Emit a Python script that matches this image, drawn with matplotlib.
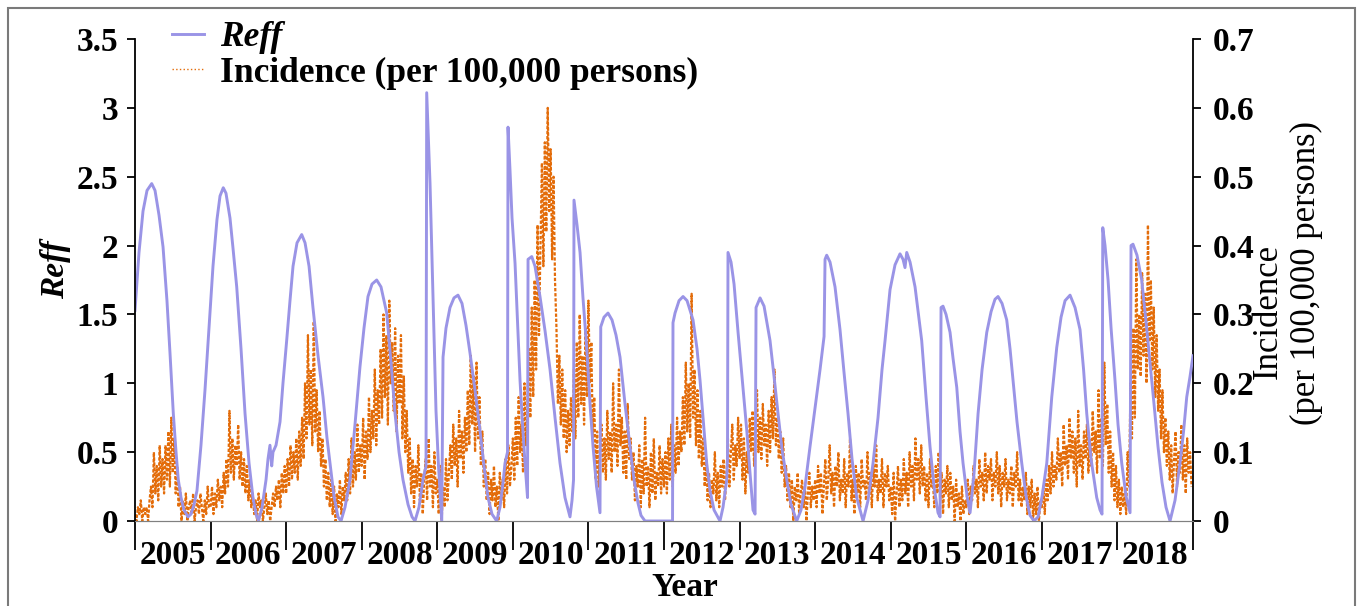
import numpy as np
import matplotlib
matplotlib.use("Agg")
import matplotlib.pyplot as plt
from matplotlib.lines import Line2D
from matplotlib.patches import Rectangle

# Reff curve, (decimal year, value)
reff_knots = [
    (2005.000, 1.53), (2005.053, 1.95), (2005.106, 2.25), (2005.159, 2.40), (2005.221, 2.45), (2005.265, 2.40),
    (2005.318, 2.22), (2005.371, 1.99), (2005.423, 1.60), (2005.463, 1.22), (2005.507, 0.78), (2005.543, 0.50),
    (2005.573, 0.30), (2005.609, 0.17), (2005.648, 0.08), (2005.701, 0.03), (2005.741, 0.05), (2005.781, 0.12),
    (2005.820, 0.22), (2005.873, 0.55), (2005.926, 0.95), (2005.979, 1.40),
    (2006.032, 1.85), (2006.085, 2.19), (2006.125, 2.36), (2006.168, 2.42), (2006.204, 2.38), (2006.257, 2.20),
    (2006.297, 1.98), (2006.346, 1.70), (2006.403, 1.25), (2006.456, 0.78), (2006.509, 0.42), (2006.561, 0.17),
    (2006.601, 0.05), (2006.634, 0.00), (2006.681, 0.10), (2006.734, 0.30), (2006.760, 0.45), (2006.786, 0.55),
    (2006.809, 0.40), (2006.826, 0.50), (2006.866, 0.55), (2006.919, 0.72), (2006.958, 1.00),
    (2007.007, 1.31), (2007.051, 1.60), (2007.091, 1.85), (2007.144, 2.02), (2007.206, 2.08), (2007.250, 2.02),
    (2007.303, 1.85), (2007.355, 1.55), (2007.422, 1.20), (2007.488, 0.90), (2007.541, 0.60), (2007.580, 0.42),
    (2007.633, 0.18), (2007.686, 0.03), (2007.726, 0.00), (2007.779, 0.10), (2007.845, 0.30), (2007.911, 0.70),
    (2007.977, 1.12),
    (2008.030, 1.40), (2008.083, 1.63), (2008.136, 1.72), (2008.198, 1.75), (2008.255, 1.70), (2008.331, 1.51),
    (2008.388, 1.15), (2008.441, 0.78), (2008.494, 0.50), (2008.546, 0.30), (2008.613, 0.12), (2008.666, 0.03),
    (2008.705, 0.00), (2008.758, 0.10), (2008.811, 0.30), (2008.851, 0.40), (2008.860, 3.11), (2008.877, 2.85),
    (2008.904, 2.45), (2008.930, 1.90), (2008.957, 1.30), (2008.983, 0.80),
    (2009.016, 0.40), (2009.059, 0.00), (2009.076, 1.19), (2009.115, 1.40), (2009.168, 1.55), (2009.221, 1.62),
    (2009.274, 1.64), (2009.327, 1.58), (2009.380, 1.42), (2009.433, 1.22), (2009.499, 0.95), (2009.565, 0.66),
    (2009.618, 0.40), (2009.671, 0.17), (2009.724, 0.05), (2009.786, 0.00), (2009.830, 0.10), (2009.870, 0.28),
    (2009.896, 0.42), (2009.929, 0.50), (2009.936, 2.86), (2009.962, 2.55), (2009.989, 2.20),
    (2010.029, 1.87), (2010.062, 1.45), (2010.095, 1.02), (2010.128, 0.70), (2010.161, 0.42), (2010.194, 0.17),
    (2010.201, 1.90), (2010.250, 1.92), (2010.293, 1.85), (2010.359, 1.63), (2010.426, 1.38), (2010.492, 1.10),
    (2010.558, 0.75), (2010.624, 0.42), (2010.690, 0.17), (2010.756, 0.03), (2010.783, 0.15), (2010.803, 0.30),
    (2010.809, 2.33), (2010.849, 2.15), (2010.889, 1.95), (2010.928, 1.62), (2010.977, 1.26),
    (2011.021, 0.85), (2011.061, 0.54), (2011.107, 0.25), (2011.153, 0.06), (2011.163, 1.41), (2011.206, 1.48),
    (2011.259, 1.51), (2011.312, 1.46), (2011.365, 1.35), (2011.418, 1.19), (2011.484, 0.85), (2011.550, 0.54),
    (2011.603, 0.30), (2011.656, 0.13), (2011.696, 0.04), (2011.749, 0.00), (2011.815, 0.00), (2011.947, 0.00),
    (2012.053, 0.00), (2012.113, 0.00), (2012.119, 1.44), (2012.146, 1.51), (2012.199, 1.60), (2012.252, 1.63),
    (2012.305, 1.60), (2012.384, 1.46), (2012.437, 1.25), (2012.477, 1.02), (2012.516, 0.75), (2012.565, 0.42),
    (2012.609, 0.22), (2012.662, 0.08), (2012.741, 0.00), (2012.781, 0.10), (2012.830, 0.30), (2012.840, 0.45),
    (2012.847, 1.95), (2012.887, 1.88), (2012.927, 1.72), (2012.980, 1.37),
    (2013.032, 1.05), (2013.095, 0.66), (2013.138, 0.35), (2013.178, 0.08), (2013.205, 0.05), (2013.218, 1.55),
    (2013.271, 1.62), (2013.324, 1.56), (2013.403, 1.31), (2013.456, 1.05), (2013.509, 0.78), (2013.562, 0.52),
    (2013.624, 0.30), (2013.681, 0.12), (2013.756, 0.00), (2013.813, 0.08), (2013.866, 0.25), (2013.932, 0.54),
    (2013.998, 0.82),
    (2014.065, 1.10), (2014.118, 1.34), (2014.131, 1.90), (2014.153, 1.93), (2014.197, 1.88), (2014.263, 1.70),
    (2014.329, 1.39), (2014.382, 1.08), (2014.435, 0.78), (2014.488, 0.45), (2014.550, 0.17), (2014.634, 0.00),
    (2014.700, 0.15), (2014.766, 0.42), (2014.832, 0.75), (2014.885, 1.10), (2014.925, 1.31), (2014.991, 1.68),
    (2015.057, 1.86), (2015.123, 1.94), (2015.163, 1.90), (2015.189, 1.84), (2015.212, 1.95), (2015.256, 1.88),
    (2015.322, 1.70), (2015.410, 1.31), (2015.467, 0.90), (2015.520, 0.54), (2015.573, 0.25), (2015.626, 0.06),
    (2015.653, 0.03), (2015.666, 1.55), (2015.692, 1.56), (2015.732, 1.50), (2015.785, 1.37), (2015.825, 1.18),
    (2015.874, 0.97), (2015.917, 0.65), (2015.957, 0.42),
    (2016.010, 0.18), (2016.050, 0.06), (2016.103, 0.35), (2016.156, 0.78), (2016.209, 1.10), (2016.271, 1.37),
    (2016.328, 1.52), (2016.380, 1.61), (2016.420, 1.63), (2016.473, 1.58), (2016.535, 1.46), (2016.579, 1.25),
    (2016.619, 1.02), (2016.671, 0.72), (2016.734, 0.42), (2016.791, 0.18), (2016.844, 0.04), (2016.897, 0.00),
    (2016.950, 0.03),
    (2017.003, 0.18), (2017.065, 0.42), (2017.131, 0.90), (2017.197, 1.26), (2017.254, 1.48), (2017.307, 1.60),
    (2017.373, 1.64), (2017.439, 1.55), (2017.505, 1.39), (2017.552, 1.10), (2017.594, 0.78), (2017.651, 0.45),
    (2017.726, 0.17), (2017.770, 0.08), (2017.796, 0.05), (2017.806, 2.13), (2017.836, 2.00), (2017.876, 1.75),
    (2017.916, 1.40), (2017.968, 1.02),
    (2018.008, 0.70), (2018.057, 0.42), (2018.114, 0.18), (2018.167, 0.06), (2018.180, 2.00), (2018.206, 2.01),
    (2018.259, 1.93), (2018.321, 1.75), (2018.378, 1.45), (2018.431, 1.15), (2018.484, 0.85), (2018.537, 0.54),
    (2018.590, 0.28), (2018.643, 0.10), (2018.696, 0.00), (2018.762, 0.15), (2018.828, 0.42), (2018.875, 0.65),
    (2018.917, 0.90), (2018.961, 1.05), (2019.000, 1.20),
]

# weekly incidence (per 100,000 persons), 52 weeks per year
inc_2005 = [0.01, 0.0, 0.02, 0.01, 0.03, 0.0, 0.02, 0.01, 0.02, 0.0, 0.03,
            0.05, 0.02, 0.10, 0.04, 0.08, 0.03, 0.11, 0.05, 0.09, 0.04, 0.11, 0.06, 0.13, 0.05, 0.15, 0.07, 0.12,
            0.04, 0.08, 0.02, 0.05, 0.0, 0.03, 0.01, 0.04, 0.0, 0.02, 0.03, 0.01, 0.04, 0.0, 0.02, 0.03, 0.01, 0.04,
            0.02, 0.0, 0.03, 0.01, 0.05, 0.02]
inc_2006 = [0.02, 0.05, 0.01, 0.04, 0.02, 0.06, 0.03, 0.05, 0.02, 0.07, 0.04,
            0.09, 0.05, 0.16, 0.07, 0.12, 0.06, 0.11, 0.08, 0.14, 0.06, 0.10, 0.05, 0.09, 0.04, 0.08,
            0.03, 0.06, 0.02, 0.04, 0.01, 0.03, 0.0, 0.04, 0.02, 0.03, 0.0, 0.02, 0.04, 0.01, 0.03, 0.0, 0.02, 0.04,
            0.02, 0.05, 0.03, 0.06, 0.02, 0.07, 0.04, 0.08]
inc_2007 = [0.04, 0.09, 0.05, 0.11, 0.06, 0.10, 0.07, 0.12, 0.06, 0.13, 0.08,
            0.15, 0.09, 0.20, 0.12, 0.27, 0.14, 0.22, 0.11, 0.29, 0.13, 0.19, 0.10, 0.16, 0.08,
            0.12, 0.05, 0.09, 0.03, 0.07, 0.02, 0.06, 0.01, 0.05, 0.0, 0.04, 0.02, 0.06, 0.01, 0.05, 0.03,
            0.07, 0.03, 0.09, 0.04, 0.12, 0.05, 0.10, 0.06, 0.14, 0.07, 0.11]
inc_2008 = [0.08, 0.15, 0.06, 0.13, 0.09, 0.18, 0.10, 0.16, 0.12, 0.22, 0.11, 0.19, 0.14,
            0.25, 0.15, 0.30, 0.18, 0.27, 0.14, 0.32, 0.20, 0.26, 0.16, 0.28, 0.13, 0.24, 0.17, 0.27, 0.12, 0.21,
            0.10, 0.16, 0.07, 0.12, 0.04, 0.09, 0.02, 0.08, 0.05, 0.11, 0.03, 0.07, 0.01, 0.06, 0.09, 0.03, 0.12,
            0.05, 0.08, 0.02, 0.10, 0.04]
inc_2009 = [0.06, 0.01, 0.08, 0.0, 0.05, 0.02, 0.09, 0.03, 0.07,
            0.11, 0.06, 0.14, 0.08, 0.12, 0.05, 0.16, 0.09, 0.13, 0.07, 0.15, 0.10,
            0.19, 0.11, 0.24, 0.14, 0.21, 0.10, 0.23, 0.12, 0.18, 0.08,
            0.13, 0.05, 0.09, 0.03, 0.07, 0.01, 0.06, 0.03, 0.08, 0.02, 0.05, 0.0, 0.07, 0.03, 0.06, 0.02, 0.09,
            0.04, 0.11, 0.05, 0.08]
inc_2010 = [0.12, 0.06, 0.15, 0.08, 0.18, 0.10, 0.14, 0.07, 0.20, 0.11, 0.17,
            0.25, 0.15, 0.31, 0.18, 0.35, 0.22, 0.43, 0.27,
            0.40, 0.52, 0.37, 0.55, 0.42, 0.60, 0.45, 0.54, 0.38, 0.50, 0.35,
            0.28, 0.17, 0.24, 0.14, 0.22, 0.12, 0.19, 0.10, 0.16,
            0.11, 0.18, 0.13, 0.22, 0.12, 0.26, 0.15, 0.30, 0.17, 0.24, 0.14, 0.28, 0.18]
inc_2011 = [0.32, 0.20, 0.26, 0.12, 0.18, 0.06, 0.13, 0.05, 0.10,
            0.14, 0.07, 0.12, 0.06, 0.16, 0.09, 0.13, 0.07, 0.20, 0.10, 0.14, 0.08, 0.22, 0.11, 0.15, 0.07, 0.13,
            0.06, 0.17, 0.09, 0.12, 0.06,
            0.10, 0.03, 0.08, 0.05, 0.11, 0.02, 0.09, 0.04, 0.15, 0.05, 0.08, 0.02, 0.10, 0.04, 0.12, 0.03, 0.07,
            0.05, 0.11, 0.04, 0.09]
inc_2012 = [0.05, 0.10, 0.04, 0.12, 0.06, 0.14, 0.05, 0.11, 0.07, 0.15, 0.08, 0.13, 0.10,
            0.18, 0.11, 0.23, 0.13, 0.20, 0.12, 0.33, 0.15, 0.22, 0.11, 0.19, 0.09, 0.16,
            0.08, 0.12, 0.05, 0.09, 0.03, 0.07, 0.02, 0.06, 0.04, 0.10, 0.03, 0.07, 0.02, 0.08, 0.05, 0.09, 0.03,
            0.07, 0.12, 0.05, 0.10, 0.14, 0.06, 0.11, 0.08, 0.15]
inc_2013 = [0.09, 0.14, 0.06, 0.12, 0.04, 0.10, 0.07, 0.15,
            0.10, 0.16, 0.08, 0.13, 0.19, 0.10, 0.15, 0.09, 0.17, 0.11, 0.14, 0.08, 0.16, 0.10, 0.18, 0.12, 0.22,
            0.11, 0.15, 0.09, 0.13, 0.07, 0.12,
            0.05, 0.08, 0.03, 0.07, 0.02, 0.06, 0.0, 0.05, 0.03, 0.07, 0.01, 0.04, 0.06, 0.02, 0.05, 0.0, 0.04,
            0.07, 0.02, 0.05, 0.03]
inc_2014 = [0.06, 0.02, 0.08, 0.04, 0.07, 0.01, 0.05, 0.09, 0.03, 0.06,
            0.11, 0.04, 0.07, 0.02, 0.08, 0.05, 0.10, 0.03, 0.06, 0.04,
            0.09, 0.02, 0.07, 0.05, 0.12, 0.03, 0.06, 0.01, 0.08, 0.04,
            0.07, 0.02, 0.09, 0.05, 0.06, 0.03, 0.10, 0.04, 0.07, 0.02,
            0.08, 0.05, 0.11, 0.03, 0.06, 0.04, 0.09, 0.02, 0.07, 0.05, 0.08, 0.03]
inc_2015 = [0.05, 0.01, 0.07, 0.0, 0.04, 0.08, 0.02, 0.06, 0.03, 0.09,
            0.04, 0.07, 0.02, 0.10, 0.05, 0.08, 0.03, 0.12, 0.06, 0.09,
            0.04, 0.11, 0.05, 0.08, 0.03, 0.07, 0.02, 0.09, 0.05, 0.06,
            0.02, 0.08, 0.04, 0.10, 0.03, 0.07, 0.01, 0.06, 0.04, 0.08,
            0.02, 0.07, 0.03, 0.05, 0.0, 0.06, 0.02, 0.04, 0.0, 0.05, 0.01, 0.03]
inc_2016 = [0.02, 0.06, 0.01, 0.05, 0.03, 0.08, 0.04, 0.06, 0.02, 0.09,
            0.05, 0.07, 0.03, 0.10, 0.04, 0.08, 0.06, 0.09, 0.03, 0.07,
            0.05, 0.10, 0.04, 0.08, 0.02, 0.07, 0.05, 0.09, 0.03, 0.06,
            0.04, 0.08, 0.02, 0.07, 0.05, 0.10, 0.03, 0.06, 0.02, 0.05,
            0.03, 0.07, 0.01, 0.05, 0.02, 0.06, 0.0, 0.04, 0.01, 0.05, 0.0, 0.03]
inc_2017 = [0.02, 0.05, 0.01, 0.06, 0.03, 0.08, 0.04, 0.10, 0.05, 0.08,
            0.06, 0.12, 0.07, 0.10, 0.05, 0.14, 0.08, 0.11, 0.06, 0.15,
            0.09, 0.13, 0.07, 0.12, 0.05, 0.16, 0.08, 0.11, 0.06, 0.13,
            0.09, 0.14, 0.07, 0.12, 0.08, 0.16, 0.10, 0.13, 0.07, 0.19,
            0.09, 0.15, 0.08, 0.23, 0.11, 0.17, 0.07, 0.13, 0.05, 0.10, 0.03, 0.08]
inc_2018 = [0.02, 0.06, 0.01, 0.05, 0.02, 0.04, 0.01,
            0.10, 0.05, 0.20, 0.12, 0.28, 0.15, 0.38, 0.22,
            0.30, 0.21, 0.36, 0.24, 0.33, 0.20, 0.43, 0.26, 0.35, 0.22, 0.31, 0.18, 0.27, 0.16,
            0.22, 0.12, 0.19, 0.10, 0.15, 0.08, 0.13,
            0.06, 0.11, 0.04, 0.09, 0.13, 0.05, 0.10, 0.07, 0.14, 0.06, 0.11, 0.04, 0.12, 0.07, 0.10, 0.05]

years = list(range(2005, 2019))
weekly = [inc_2005, inc_2006, inc_2007, inc_2008, inc_2009, inc_2010, inc_2011,
          inc_2012, inc_2013, inc_2014, inc_2015, inc_2016, inc_2017, inc_2018]

reff_t = np.array([p[0] for p in reff_knots])
reff_v = np.array([p[1] for p in reff_knots])
inc_t = np.concatenate([y + np.arange(len(w)) / len(w) for y, w in zip(years, weekly)])
inc_v = np.concatenate(weekly)

#Figure setup
plt.rcParams['font.family'] = ['Liberation Serif', 'DejaVu Serif']
fig = plt.figure(figsize=(13.58, 6.06), dpi=100)
ax = fig.add_axes([135/1358, 1 - 521/606, (1193-135)/1358, (521-39)/606])
ax2 = ax.twinx()

blue = '#9a94e6'
orange = '#e36c0a'

ax2.plot(inc_t, inc_v, color=orange, lw=1.6, ls=(0, (1.5, 0.8)))
ax.plot(reff_t, reff_v, color=blue, lw=2.1)
ax.set_zorder(ax2.get_zorder() + 1)
ax.patch.set_visible(False)

ax.set_xlim(2005, 2019)
ax.set_ylim(0, 3.5)
ax2.set_ylim(0, 0.7)

#Axis styling
for a in (ax, ax2):
    a.spines['top'].set_visible(False)
    a.spines['bottom'].set_color('#808080')
    a.spines['left'].set_linewidth(1.3)
    a.spines['right'].set_linewidth(1.3)
ax2.spines['left'].set_visible(False)
ax.spines['right'].set_visible(False)

ax.set_yticks([0, 0.5, 1, 1.5, 2, 2.5, 3, 3.5])
ax.set_yticklabels(['0', '0.5', '1', '1.5', '2', '2.5', '3', '3.5'])
ax2.set_yticks([0, 0.1, 0.2, 0.3, 0.4, 0.5, 0.6, 0.7])
ax2.set_yticklabels(['0', '0.1', '0.2', '0.3', '0.4', '0.5', '0.6', '0.7'])
ax.tick_params(axis='y', direction='out', length=6, width=1.3, pad=6, labelsize=24)
ax2.tick_params(axis='y', direction='out', length=6, width=1.3, pad=8, labelsize=24)
for lab in ax.get_yticklabels() + ax2.get_yticklabels():
    lab.set_fontweight('bold')

ax.set_xticks(np.arange(2005, 2020))
ax.set_xticklabels([])
ax.set_xticks(np.array(years) + 0.5, minor=True)
ax.set_xticklabels([str(y) for y in years], minor=True)
ax.tick_params(axis='x', which='major', direction='out', length=21, width=1.3, color='black')
ax.tick_params(axis='x', which='minor', length=0, pad=14, labelsize=24)
for lab in ax.get_xticklabels(minor=True):
    lab.set_fontweight('bold')
ax2.tick_params(axis='x', which='both', length=0)

#Labels
fig.text(56/1358, 1 - 270/606, 'Reff', rotation=90, ha='center', va='center',
         fontsize=24, fontweight='bold', fontstyle='italic')
fig.text(685/1358, 1 - 588/606, 'Year', ha='center', va='center', fontsize=24, fontweight='bold')
fig.text(1268/1358, 1 - 311/606, 'Incidence', rotation=90, ha='center', va='center', fontsize=25)
fig.text(1306/1358, 1 - 273/606, '(per 100,000 persons)', rotation=90, ha='center', va='center', fontsize=25)

#Legend
handles = [Line2D([], [], color=blue, lw=2.1),
           Line2D([], [], color=orange, lw=1.0, ls=':')]
leg = fig.legend(handles, ['Reff', 'Incidence (per 100,000 persons)'], loc='upper left',
                 bbox_to_anchor=(172/1358, 1 - 21/606), frameon=False, borderpad=0, borderaxespad=0,
                 handlelength=0.9, handletextpad=0.45, labelspacing=0.08,
                 prop={'size': 25.5, 'weight': 'bold'})
leg.get_texts()[0].set_fontstyle('italic')

#Outer frame
fig.patches.append(Rectangle((8/1358, -0.02), (1355-8)/1358, 1.02 - 8/606, transform=fig.transFigure,
                             fill=False, edgecolor='#7a7a7a', lw=1.5))

fig.savefig('out.png', dpi=100)
